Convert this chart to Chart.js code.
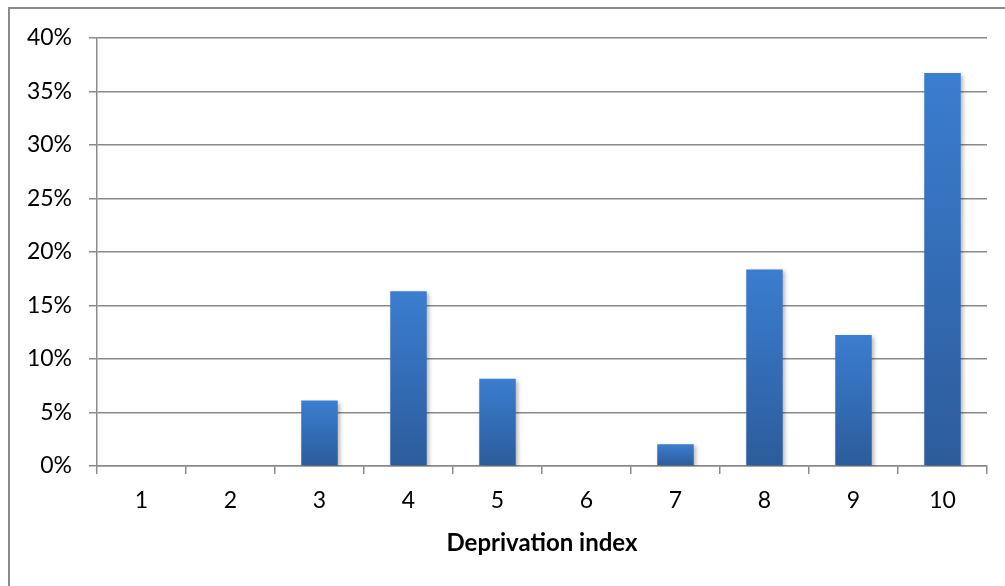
<!DOCTYPE html>
<html>
<head>
<meta charset="utf-8">
<script src="https://cdn.jsdelivr.net/npm/chart.js@4.4.1/dist/chart.umd.min.js"></script>
<style>
  html, body { margin: 0; padding: 0; background: #fff; overflow: hidden; }
  #frame { position: absolute; left: 8px; top: 7px; width: 1100px; height: 700px; border: 2px solid #8a8a8a; box-sizing: border-box; }
  #wrap { position: absolute; left: 0; top: 0; width: 1005px; height: 586px; }
</style>
</head>
<body>
<div id="frame"></div>
<div id="wrap"><canvas id="chart"></canvas></div>
<script>
const categories = ["1", "2", "3", "4", "5", "6", "7", "8", "9", "10"];
const shares = [0, 0, 6.12, 16.33, 8.16, 0, 2.04, 18.37, 12.24, 36.73];
const xTitle = "Deprivation index";

// per-bar vertical gradient, light at top, darker at the base
function barFill(c) {
  const chart = c.chart;
  const y = chart.scales.y;
  if (!y || !chart.chartArea || c.raw == null) return "#3a7bcc";
  const top = y.getPixelForValue(c.raw);
  const base = y.getPixelForValue(0);
  if (!(base > top)) return "#3a7bcc";
  const g = chart.ctx.createLinearGradient(0, top, 0, base);
  g.addColorStop(0, "#3b7dd0");
  g.addColorStop(1, "#2c5c9b");
  return g;
}

const shadow = {
  id: "shadow",
  beforeDatasetsDraw(chart) {
    const ctx = chart.ctx;
    ctx.save();
    ctx.shadowColor = "rgba(0,0,0,0.28)";
    ctx.shadowBlur = 4;
    ctx.shadowOffsetX = 2;
    ctx.shadowOffsetY = 2;
  },
  afterDatasetsDraw(chart) { chart.ctx.restore(); }
};

new Chart(document.getElementById("chart"), {
  type: "bar",
  data: {
    labels: categories,
    datasets: [{ data: shares, backgroundColor: barFill, barPercentage: 0.41, categoryPercentage: 1 }]
  },
  options: {
    responsive: true,
    maintainAspectRatio: false,
    animation: false,
    layout: { padding: { top: 38, right: 18, left: 0, bottom: 0 } },
    plugins: { legend: { display: false }, tooltip: { enabled: false } },
    scales: {
      x: {
        offset: true,
        grid: { offset: true, drawOnChartArea: false, color: "#8a8a8a", lineWidth: 1.5, tickLength: 8 },
        border: { color: "#8a8a8a", width: 1.5 },
        ticks: { color: "#000", padding: 13, font: { family: "Lato", size: 23 } },
        title: { display: true, text: xTitle, color: "#000", font: { family: "Lato", size: 24, weight: "bold" }, padding: { top: 0, bottom: 28 } },
        afterFit(s) { s.height = 120; }
      },
      y: {
        min: 0, max: 40,
        ticks: { stepSize: 5, color: "#000", padding: 17, font: { family: "Lato", size: 23 }, callback: v => v + "%" },
        grid: { color: "#8a8a8a", lineWidth: 1.5, tickLength: 8 },
        border: { color: "#8a8a8a", width: 1.5 },
        afterFit(s) { s.width = 97; }
      }
    }
  },
  plugins: [shadow]
});
</script>
</body>
</html>
